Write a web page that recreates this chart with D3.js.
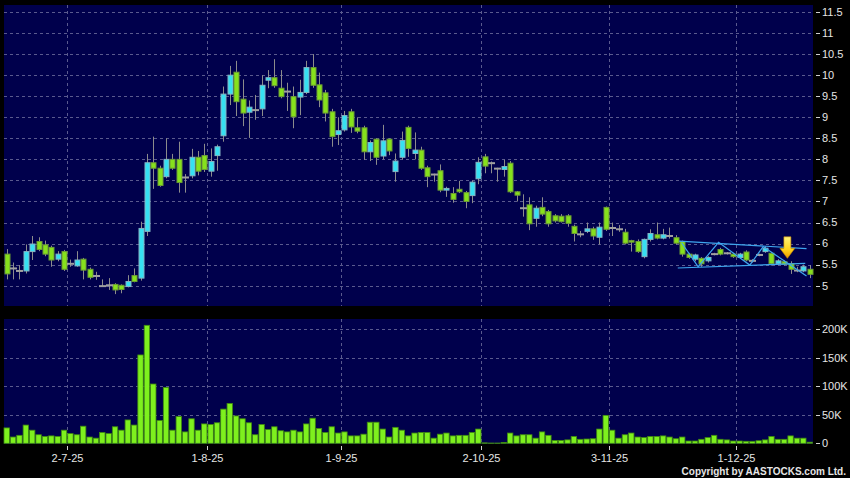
<!DOCTYPE html>
<html>
<head>
<meta charset="utf-8">
<script src="https://cdn.jsdelivr.net/npm/d3@7"></script>
<style>
    body { margin: 0; background: #000; }
    svg { display: block; font-family: Arial, "Liberation Sans", sans-serif; }
</style>
</head>
<body>
<div id="chart"></div>
<script>

//Trading days shown on the chart
const dates = [
    "17-6-25","18-6-25","19-6-25","20-6-25","23-6-25","24-6-25","25-6-25","26-6-25","27-6-25","30-6-25",
    "2-7-25","3-7-25","4-7-25","7-7-25","8-7-25","9-7-25","10-7-25","11-7-25","14-7-25","15-7-25","16-7-25",
    "17-7-25","18-7-25","21-7-25","22-7-25","23-7-25","24-7-25","25-7-25","28-7-25","29-7-25","30-7-25","31-7-25",
    "1-8-25","4-8-25","5-8-25","6-8-25","7-8-25","8-8-25","11-8-25","12-8-25","13-8-25","14-8-25","15-8-25",
    "18-8-25","19-8-25","20-8-25","21-8-25","22-8-25","25-8-25","26-8-25","27-8-25","28-8-25","29-8-25",
    "1-9-25","2-9-25","3-9-25","4-9-25","5-9-25","8-9-25","9-9-25","10-9-25","11-9-25","12-9-25","15-9-25",
    "16-9-25","17-9-25","18-9-25","19-9-25","22-9-25","23-9-25","24-9-25","25-9-25","26-9-25","29-9-25","30-9-25",
    "2-10-25","3-10-25","6-10-25","8-10-25","9-10-25","10-10-25","13-10-25","14-10-25","15-10-25","16-10-25",
    "17-10-25","20-10-25","21-10-25","22-10-25","23-10-25","24-10-25","27-10-25","28-10-25","30-10-25","31-10-25",
    "3-11-25","4-11-25","5-11-25","6-11-25","7-11-25","10-11-25","11-11-25","12-11-25","13-11-25","14-11-25",
    "17-11-25","18-11-25","19-11-25","20-11-25","21-11-25","24-11-25","25-11-25","26-11-25","27-11-25","28-11-25",
    "1-12-25","2-12-25","3-12-25","4-12-25","5-12-25","8-12-25","9-12-25","10-12-25","11-12-25","12-12-25","15-12-25","16-12-25"
];

const open = [
    5.75,5.41,5.35,5.35,5.81,6.05,5.97,5.91,5.63,5.81,5.52,5.47,5.63,5.39,5.23,4.99,5.01,5.03,5.01,4.98,
    5.24,5.18,6.29,7.92,7.79,7.59,8.00,8.00,7.57,7.61,8.05,8.09,7.72,8.09,8.56,9.55,10.07,9.43,9.12,9.17,
    9.20,9.88,9.94,9.69,9.61,9.49,9.48,9.59,10.18,9.77,9.58,9.13,8.59,8.70,9.13,8.75,8.75,8.18,8.48,8.08,
    8.48,7.71,8.05,8.76,8.14,8.22,7.80,7.64,7.73,7.27,7.19,7.29,7.21,7.14,7.54,8.06,7.91,7.78,7.76,7.91,
    7.23,6.84,6.92,6.60,6.86,6.76,6.66,6.65,6.66,6.41,6.22,6.29,6.35,6.15,6.86,6.37,6.34,6.27,6.07,6.05,
    5.69,6.10,6.21,6.13,6.18,6.14,6.05,5.75,5.63,5.65,5.59,5.75,5.86,5.77,5.75,5.67,5.80,5.59,5.73,5.81,
    5.77,5.52,5.57,5.52,5.36,5.35,5.39
];
const high = [
    5.87,5.55,5.49,5.98,6.18,6.15,6.07,5.95,5.82,5.85,5.62,5.82,5.66,5.43,5.33,5.15,5.18,5.06,5.03,5.25,
    5.41,6.52,8.13,8.54,7.85,8.50,8.13,8.42,7.65,8.25,8.20,8.37,8.26,8.35,9.73,10.22,10.34,9.90,9.40,9.53,
    10.00,10.12,10.38,10.12,9.82,9.73,9.89,10.34,10.50,10.06,9.65,9.20,9.00,9.15,9.20,9.00,8.80,8.45,8.50,8.82,
    8.50,8.14,8.66,8.80,8.64,8.30,7.85,7.66,7.88,7.35,7.34,7.49,7.25,7.50,8.05,8.13,7.95,7.80,7.99,7.96,
    7.25,7.17,7.10,6.90,7.10,6.80,6.70,6.70,6.70,6.45,6.30,6.50,6.40,6.50,6.88,6.50,6.44,6.35,6.09,6.10,
    6.12,6.34,6.50,6.35,6.38,6.20,6.07,5.78,5.76,5.68,5.70,5.78,5.90,5.80,5.78,5.78,5.84,5.63,5.76,5.94,
    5.80,5.63,5.60,5.58,5.45,5.50,5.49
];
const low = [
    5.15,5.15,5.15,5.29,5.61,5.82,5.70,5.45,5.58,5.35,5.45,5.45,5.15,5.15,5.14,4.98,4.90,4.80,4.82,4.96,
    5.08,5.12,6.18,7.30,7.35,7.55,7.75,7.21,7.21,7.55,7.62,7.70,7.59,7.73,8.42,9.29,9.03,8.79,8.51,8.94,
    9.03,9.69,9.70,9.45,9.15,8.74,9.05,9.55,9.70,9.24,8.90,8.30,8.34,8.66,8.63,8.62,7.99,7.96,7.87,8.00,
    8.10,7.47,8.00,8.06,8.00,7.75,7.34,7.47,7.22,7.11,6.97,7.20,6.84,6.96,7.41,7.67,7.67,7.47,7.59,7.20,
    7.00,6.64,6.32,6.40,6.65,6.40,6.50,6.50,6.40,6.05,6.15,6.25,6.09,5.98,6.30,6.18,6.28,5.98,5.81,5.78,
    5.65,6.05,6.10,6.10,6.12,5.98,5.69,5.64,5.58,5.45,5.55,5.72,5.72,5.74,5.66,5.64,5.58,5.55,5.70,5.78,
    5.48,5.49,5.48,5.28,5.32,5.32,5.18
];
const close = [
    5.28,5.41,5.35,5.81,5.99,5.86,5.75,5.61,5.75,5.39,5.52,5.61,5.37,5.20,5.23,4.99,5.01,4.90,4.91,5.10,
    5.10,6.36,7.92,7.79,7.38,8.00,7.79,7.45,7.57,8.05,7.72,7.76,7.95,8.30,9.55,10.00,9.37,9.10,9.24,9.17,
    9.76,9.94,9.75,9.49,9.61,9.01,9.59,10.18,9.76,9.41,9.10,8.54,8.68,9.04,8.77,8.67,8.18,8.40,8.05,8.44,
    8.20,7.96,8.45,8.26,8.22,7.79,7.59,7.64,7.27,7.31,7.05,7.23,7.00,7.46,7.93,7.84,7.91,7.78,7.83,7.23,
    7.15,6.84,6.47,6.84,6.70,6.47,6.54,6.52,6.48,6.24,6.22,6.35,6.18,6.39,6.34,6.37,6.34,6.01,6.04,5.81,
    6.10,6.24,6.13,6.21,6.18,6.01,5.75,5.67,5.73,5.52,5.67,5.75,5.75,5.77,5.69,5.75,5.61,5.59,5.73,5.89,
    5.52,5.59,5.51,5.39,5.36,5.45,5.27
];

//Volume in thousands of shares
const volumeK = [
    27,11,14,32,23,15,12,13,12,23,17,15,30,11,9,19,17,29,23,41,
    32,155,207,104,40,98,23,47,20,43,23,34,33,36,60,70,48,43,36,15,
    33,24,29,22,20,23,20,34,44,26,19,29,18,20,13,13,16,37,37,25,
    11,28,23,13,18,19,19,9,16,18,13,14,14,19,25,0.8,0.5,0.5,1.5,18,
    13,15,15,9,20,14,5,5,6,12,7,7.5,8,25,49,23,9,15,18,11,
    10,12,12,13,11,8,11,4,4,7,10,14,7,6,4,4,3.5,3.5,4.5,6,
    12,7,7,13,9,9,2
];

//Axis tick values
const priceTicks = [5, 5.5, 6, 6.5, 7, 7.5, 8, 8.5, 9, 9.5, 10, 10.5, 11, 11.5];
const volumeTicks = [0, 50, 100, 150, 200];
const dateTicks = ["2-7-25", "1-8-25", "1-9-25", "2-10-25", "3-11-25", "1-12-25"];

//Drawn pattern: [candle index, price]
const patternUpper = [[105.5, 6.06], [125.5, 5.88]];
const patternLower = [[105.3, 5.42], [125.3, 5.53]];
const patternZigzag = [[105.9, 6.02], [108.5, 5.45], [111.7, 6.03], [116.6, 5.49], [118.7, 5.93], [125.5, 5.23]];
const arrowMark = {index: 122.5, top: 6.16, neck: 5.89, tip: 5.65};

let width = 850, height = 478;
let svg = d3.select("#chart").append("svg")
    .attr("width", width)
    .attr("height", height);

svg.append("rect").attr("width", width).attr("height", height).attr("fill", "#000");

let plotLeft = 4, plotRight = 813;
let priceTop = 5, priceBottom = 306;
let volTop = 319, volBottom = 444;

//Scales
let x = d3.scaleLinear().domain([0, dates.length - 1]).range([6.7, 809.7]);
let y = d3.scaleLinear().domain([5, 11.5]).range([285.7, 12]);
let yVol = d3.scaleLinear().domain([0, 200]).range([443.3, 329.3]);

let navy = "#00004c";
let gridColor = "#5a5a8e";

//Panels
svg.append("rect").attr("x", plotLeft).attr("y", priceTop)
    .attr("width", plotRight - plotLeft).attr("height", priceBottom - priceTop).attr("fill", navy);
svg.append("rect").attr("x", plotLeft).attr("y", volTop)
    .attr("width", plotRight - plotLeft).attr("height", volBottom - volTop).attr("fill", navy);

let gridX = d => x(dates.indexOf(d) - 0.5);

//Grid lines
let grid = svg.append("g").attr("stroke", gridColor).attr("stroke-dasharray", "3,3").attr("stroke-width", 1);
grid.selectAll(".hp").data(priceTicks).join("line")
    .attr("x1", plotLeft).attr("x2", plotRight)
    .attr("y1", d => Math.round(y(d)) + 0.5).attr("y2", d => Math.round(y(d)) + 0.5);
grid.selectAll(".hv").data(volumeTicks.filter(d => d > 0)).join("line")
    .attr("x1", plotLeft).attr("x2", plotRight)
    .attr("y1", d => Math.round(yVol(d)) + 0.5).attr("y2", d => Math.round(yVol(d)) + 0.5);
dateTicks.forEach(d =>
{
    let gx = Math.round(gridX(d)) + 0.5;
    grid.append("line").attr("x1", gx).attr("x2", gx).attr("y1", priceTop).attr("y2", priceBottom);
    grid.append("line").attr("x1", gx).attr("x2", gx).attr("y1", volTop).attr("y2", volBottom);
});

//Candles
let candles = d3.range(dates.length);
let cg = svg.append("g");
cg.selectAll(".wick").data(candles).join("line")
    .attr("x1", i => Math.round(x(i)) + 0.5).attr("x2", i => Math.round(x(i)) + 0.5)
    .attr("y1", i => y(high[i])).attr("y2", i => y(low[i]))
    .attr("stroke", "#8c8c8c").attr("stroke-width", 1);

let bodies = candles.filter(i => open[i] !== close[i]);
cg.selectAll(".body").data(bodies).join("rect")
    .attr("x", i => Math.round(x(i)) - 2)
    .attr("width", 5)
    .attr("y", i => y(Math.max(open[i], close[i])))
    .attr("height", i => Math.max(1.5, y(Math.min(open[i], close[i])) - y(Math.max(open[i], close[i]))))
    .attr("fill", i => close[i] > open[i] ? "#36e0f2" : "#86e11c")
    .attr("stroke", i => close[i] > open[i] ? "#84b4c4" : "#6c9c34")
    .attr("stroke-width", 1);

let dojis = candles.filter(i => open[i] === close[i]);
cg.selectAll(".doji").data(dojis).join("line")
    .attr("x1", i => Math.round(x(i)) - 3).attr("x2", i => Math.round(x(i)) + 4)
    .attr("y1", i => y(close[i])).attr("y2", i => y(close[i]))
    .attr("stroke", "#a0a0a0").attr("stroke-width", 2);

//Pattern drawn over the candles
let pline = d3.line().x(d => x(d[0])).y(d => y(d[1]));
[patternUpper, patternLower, patternZigzag].forEach(p =>
{
    svg.append("path").attr("d", pline(p))
        .attr("fill", "none").attr("stroke", "#3ea6ee").attr("stroke-width", 1.2);
});

//Yellow arrow
let defs = svg.append("defs");
let grad = defs.append("linearGradient").attr("id", "arrowGrad")
    .attr("x1", 0).attr("y1", 0).attr("x2", 0).attr("y2", 1);
grad.append("stop").attr("offset", "0%").attr("stop-color", "#fff27a");
grad.append("stop").attr("offset", "60%").attr("stop-color", "#ffd21a");
grad.append("stop").attr("offset", "100%").attr("stop-color", "#e89a00");
let ax = x(arrowMark.index);
let arrowPts = [
    [ax - 3.5, y(arrowMark.top)], [ax + 3.5, y(arrowMark.top)],
    [ax + 3.5, y(arrowMark.neck)], [ax + 7.5, y(arrowMark.neck)],
    [ax, y(arrowMark.tip)],
    [ax - 7.5, y(arrowMark.neck)], [ax - 3.5, y(arrowMark.neck)]
];
svg.append("polygon").attr("points", arrowPts.map(p => p.join(",")).join(" "))
    .attr("fill", "url(#arrowGrad)").attr("stroke", "#c88a00").attr("stroke-width", 0.6);

//Volume bars
svg.append("g").selectAll("rect").data(candles).join("rect")
    .attr("x", i => x(i) - 2.7)
    .attr("width", 5.4)
    .attr("y", i => yVol(volumeK[i]))
    .attr("height", i => yVol(0) - yVol(volumeK[i]))
    .attr("fill", "#7ef01e")
    .attr("stroke", "#3f8a10")
    .attr("stroke-width", 0.8);

//Right axis labels
let textColor = "#e6e6e6";
let axisG = svg.append("g").attr("fill", textColor).attr("font-size", "11px");
axisG.selectAll(".pt").data(priceTicks).join("text")
    .attr("x", 822).attr("y", d => y(d)).attr("dy", "0.35em")
    .text(d => d);
axisG.selectAll(".vt").data(volumeTicks).join("text")
    .attr("x", 822).attr("y", d => yVol(d)).attr("dy", "0.35em")
    .text(d => d === 0 ? "0" : d + "K");

let tickG = svg.append("g").attr("stroke", "#d0d0d0").attr("stroke-width", 1);
priceTicks.forEach(d =>
{
    tickG.append("line").attr("x1", 816).attr("x2", 820)
        .attr("y1", Math.round(y(d)) + 0.5).attr("y2", Math.round(y(d)) + 0.5);
});
volumeTicks.forEach(d =>
{
    tickG.append("line").attr("x1", 816).attr("x2", 820)
        .attr("y1", Math.round(yVol(d)) + 0.5).attr("y2", Math.round(yVol(d)) + 0.5);
});

//Date axis
dateTicks.forEach(d =>
{
    let gx = Math.round(gridX(d)) + 0.5;
    tickG.append("line").attr("x1", gx).attr("x2", gx).attr("y1", 446).attr("y2", 450);
    axisG.append("text").attr("x", gx).attr("y", 462)
        .attr("text-anchor", "middle").text(d);
});

svg.append("text")
    .attr("x", 846).attr("y", 475)
    .attr("text-anchor", "end")
    .attr("fill", textColor)
    .attr("font-size", "10px")
    .attr("font-weight", "bold")
    .text("Copyright by AASTOCKS.com Ltd.");

</script>
</body>
</html>
